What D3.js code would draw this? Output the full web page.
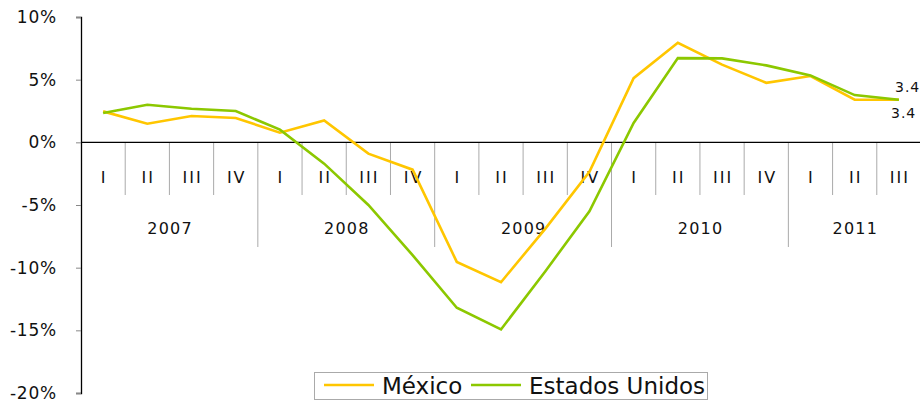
<!DOCTYPE html>
<html><head><meta charset="utf-8">
<script src="https://cdn.jsdelivr.net/npm/d3@7"></script>
<style>body{margin:0;background:#fff;}svg{display:block;font-family:"DejaVu Sans",Verdana,sans-serif;}</style>
</head><body>
<svg id="c" width="920" height="401"></svg>
<script>
const quarters = ["I","II","III","IV","I","II","III","IV","I","II","III","IV","I","II","III","IV","I","II","III"];
const years = ["2007","2008","2009","2010","2011"];
const yearQuarterCounts = [4,4,4,4,3];
const mexico = [2.47,1.49,2.1,1.94,0.77,1.75,-0.9,-2.18,-9.54,-11.16,-6.9,-2.36,5.12,7.94,6.2,4.75,5.29,3.4,3.4];
const usa = [2.34,3.0,2.68,2.5,1.01,-1.7,-5.0,-9.0,-13.2,-14.93,-10.3,-5.5,1.54,6.72,6.7,6.14,5.34,3.77,3.4];
const yTicks = [10,5,0,-5,-10,-15,-20];
const seriesNames = ["México","Estados Unidos"];
const colors = ["#FFC600","#8CC800"];

const svg = d3.select("#c");
const x = d3.scaleBand().domain(d3.range(quarters.length)).range([81,921]).padding(0);
const y = d3.scaleLinear().domain([-20,10]).range([393,17]);
const y0 = y(0);

// title fragments (clipped at top)
svg.append("text").attr("x",262).attr("y",-2).attr("font-size",18).text("(");
svg.append("text").attr("x",685).attr("y",-2).attr("font-size",18).text(")");

// y axis
const yAxis = d3.axisLeft(y).tickValues(yTicks).tickSize(5).tickPadding(19).tickFormat(d=>d+"%");
const ga = svg.append("g").attr("transform","translate(81,0)").call(yAxis);
ga.select(".domain").attr("stroke","#000").attr("stroke-width",1.3);
ga.selectAll(".tick line").attr("stroke","#888");
ga.selectAll(".tick text").attr("font-size",17).attr("fill","#111").attr("letter-spacing",0.8).attr("font-family","DejaVu Sans, Verdana, sans-serif");

// category separators
let cum = 0;
const yearStarts = new Set();
yearQuarterCounts.forEach(n=>{cum+=n; yearStarts.add(cum);});
for(let i=1;i<=quarters.length;i++){
  const xp = i<quarters.length ? x(i) : x.range()[1];
  const isYear = yearStarts.has(i) && i<quarters.length;
  svg.append("line").attr("x1",xp).attr("x2",xp).attr("y1",y0).attr("y2",isYear?247:195)
    .attr("stroke","#aaa").attr("stroke-width",1);
}
// zero line
svg.append("line").attr("x1",81).attr("x2",920).attr("y1",y0).attr("y2",y0).attr("stroke","#000").attr("stroke-width",1.3);

// quarter labels
svg.selectAll("text.q").data(quarters).join("text").attr("class","q")
  .attr("x",(d,i)=>x(i)+x.bandwidth()/2).attr("dx",1).attr("y",183).attr("text-anchor","middle")
  .attr("font-size",16).attr("letter-spacing",2).attr("fill","#111").text(d=>d);
// year labels
let start=0;
years.forEach((yr,k)=>{
  const n=yearQuarterCounts[k];
  const cx = x(start) + n*x.bandwidth()/2;
  svg.append("text").attr("x",cx).attr("dx",0.6).attr("y",234).attr("text-anchor","middle").attr("font-size",16).attr("letter-spacing",1.2).attr("fill","#111").text(yr);
  start+=n;
});

// lines
const line = d3.line().x((d,i)=>x(i)+x.bandwidth()/2).y(d=>y(d));
[mexico,usa].forEach((s,k)=>{
  svg.append("path").datum(s).attr("d",line).attr("fill","none").attr("stroke",colors[k]).attr("stroke-width",2.6).attr("stroke-linejoin","miter");
});

// end labels
const li = quarters.length-1;
svg.append("text").attr("x",895).attr("y",92).attr("font-size",14).attr("letter-spacing",1).attr("fill","#111").text(usa[li].toFixed(1));
svg.append("text").attr("x",891).attr("y",118).attr("font-size",14).attr("letter-spacing",1).attr("fill","#111").text(mexico[li].toFixed(1));

// legend
const lg = svg.append("g");
lg.append("rect").attr("x",314.5).attr("y",372.5).attr("width",393).attr("height",27).attr("fill","#fff").attr("stroke","#aaa");
const items=[{lx:324,tx:382},{lx:471,tx:529}];
items.forEach((it,k)=>{
  lg.append("line").attr("x1",it.lx).attr("x2",it.lx+50).attr("y1",385).attr("y2",385).attr("stroke",colors[k]).attr("stroke-width",2.6);
  lg.append("text").attr("x",it.tx).attr("y",394).attr("font-size",23).attr("fill","#111").text(seriesNames[k]);
});
</script>
</body></html>
